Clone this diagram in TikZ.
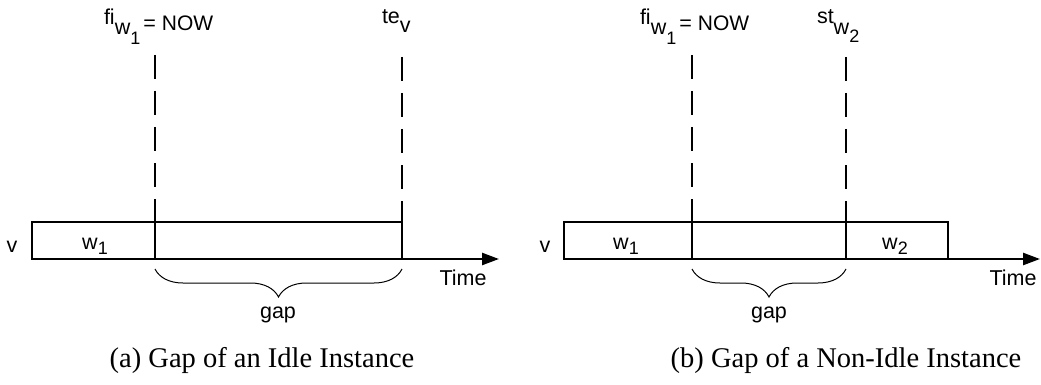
\documentclass[tikz,border=0pt]{standalone}
\usepackage{fontspec}
\setmainfont{Liberation Sans}
\newfontfamily\capfont{Liberation Serif}
\usetikzlibrary{arrows.meta,decorations.pathreplacing}
\newcommand\fsz[1]{\fontsize{#1}{#1}\selectfont}
\newcommand\lowsub[1]{\raisebox{-5pt}{\fsz{18}#1}}
\newcommand\fiNow{\raisebox{6pt}{fi}\raisebox{-4pt}{w}\raisebox{-14pt}{\fsz{18}1}\hspace{3pt}=\hspace{6pt}{\fsz{21}NOW}}
\begin{document}
\begin{tikzpicture}[x=1pt,y=-1pt,
  seg/.style={draw, line width=2.4pt, inner sep=0pt, outer sep=0pt, minimum height=37pt, anchor=north west},
  dashline/.style={line width=2.4pt, dash pattern=on 24pt off 12pt},
  axis/.style={line width=2.4pt, -{Triangle[length=17pt,width=12pt]}},
  bracestyle/.style={decorate, decoration={brace, mirror, amplitude=28pt}, line width=1pt},
  lbl/.style={font=\fsz{21.5}, inner sep=0pt, outer sep=0pt},
  captext/.style={font=\capfont\fsz{28.5}, inner sep=0pt, outer sep=0pt}]
\useasboundingbox (0,0) rectangle (1041,385);

% ---------- (a) ----------
\node[seg, minimum width=123pt] (w1a) at (32,222) {};
\node[seg, minimum width=247pt] (gapa) at (155,222) {};
\coordinate (da1) at (155,55);
\coordinate (da2) at (402,57);
\coordinate (enda) at (499,259);
\draw[dashline] (da1) -- (w1a.north east);
\draw[dashline] (da2) -- (gapa.north east);
\draw[axis] (gapa.south east) -- (enda);
\coordinate (bra1) at (155,269);
\coordinate (bra2) at (402,269);
\draw[bracestyle] (bra1) -- (bra2);

\node[lbl, anchor=base] (va) at (12,252) {v};
\node[lbl, anchor=base] (tw1a) at (95,249) {w\lowsub{1}};
\node[lbl, anchor=base west] (fia) at (104,31) {\fiNow};
\node[lbl, anchor=base west] (tea) at (382,24) {te\raisebox{-9pt}{v}};
\node[lbl, anchor=base] (timea) at (463,285) {Time};
\node[lbl, anchor=base] (gapla) at (278,318) {gap};
\node[captext, anchor=base] (capa) at (262,367) {(a) Gap of an Idle Instance};

% ---------- (b) ----------
\node[seg, minimum width=128pt] (w1b) at (564,222) {};
\node[seg, minimum width=154pt] (gapb) at (692,222) {};
\node[seg, minimum width=102pt] (w2b) at (846,222) {};
\coordinate (db1) at (692,55);
\coordinate (db2) at (846,57);
\coordinate (endb) at (1040,259);
\draw[dashline] (db1) -- (w1b.north east);
\draw[dashline] (db2) -- (gapb.north east);
\draw[axis] (w2b.south east) -- (endb);
\coordinate (brb1) at (692,269);
\coordinate (brb2) at (846,269);
\draw[bracestyle] (brb1) -- (brb2);

\node[lbl, anchor=base] (vb) at (545,252) {v};
\node[lbl, anchor=base] (tw1b) at (626,249) {w\lowsub{1}};
\node[lbl, anchor=base] (tw2b) at (895,249) {w\lowsub{2}};
\node[lbl, anchor=base west] (fib) at (640,31) {\fiNow};
\node[lbl, anchor=base west] (stb) at (817,24) {st\raisebox{-11pt}{w}\raisebox{-19pt}{\fsz{18}2}};
\node[lbl, anchor=base] (timeb) at (1013,285) {Time};
\node[lbl, anchor=base] (gaplb) at (769,318) {gap};
\node[captext, anchor=base] (capb) at (846,367) {(b) Gap of a Non-Idle Instance};
\end{tikzpicture}
\end{document}
